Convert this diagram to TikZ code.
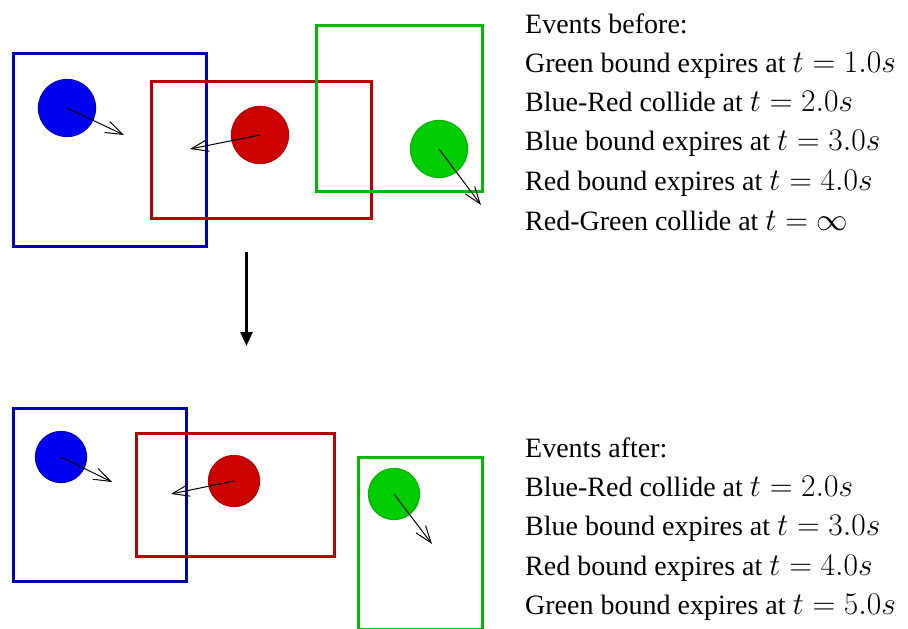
\RequirePackage{fix-cm}
\documentclass[tikz,border=0pt]{standalone}
\usepackage{fontspec}
\setmainfont{Liberation Serif}
\usetikzlibrary{arrows.meta}

\definecolor{blueball}{RGB}{0,0,240}
\definecolor{blueedge}{RGB}{0,0,190}
\definecolor{bluebox}{RGB}{0,0,185}
\definecolor{redball}{RGB}{205,0,0}
\definecolor{rededge}{RGB}{185,0,0}
\definecolor{redbox}{RGB}{185,0,0}
\definecolor{greenball}{RGB}{0,205,0}
\definecolor{greenedge}{RGB}{0,180,0}
\definecolor{greenbox}{RGB}{0,185,0}

% event time, set a little larger than the surrounding text
\newcommand{\evtime}[1]{{\fontsize{31.5}{34}\selectfont$t=#1$}}

\tikzset{
  bound/.style={draw=#1, line width=2.5pt, rectangle, inner sep=0pt, anchor=north west},
  ball/.style={circle, fill=#1ball, draw=#1edge, line width=1.3pt, inner sep=0pt},
  velocity/.style={line width=1pt, -{Straight Barb[length=17pt,width=12pt,line width=1pt]}},
  eventline/.style={anchor=base west, inner sep=0pt, font=\fontsize{28}{34}\selectfont},
  stepdown/.style={line width=2.5pt, -{Triangle[length=14pt,width=12pt]}}
}

\begin{document}
\begin{tikzpicture}[x=1pt, y=-1pt]
  \useasboundingbox (0,0) rectangle (908,629);

  % ---- state before ----
  \node[bound=bluebox,  minimum width=193pt, minimum height=193pt] (bbA) at (12,52) {};
  \node[bound=redbox,   minimum width=220pt, minimum height=137pt] (rbA) at (150,80) {};
  \node[bound=greenbox, minimum width=166pt, minimum height=166pt] (gbA) at (315,24) {};

  \node[ball=blue,  minimum size=57pt] (blueA)  at (67,108) {};
  \node[ball=red,   minimum size=57pt] (redA)   at (260,135) {};
  \node[ball=green, minimum size=57pt] (greenA) at (439,149) {};

  \coordinate (vbA) at (124,135);
  \coordinate (vrA) at (190,149);
  \coordinate (vgA) at (481,205);
  \draw[velocity] (blueA.center)  -- (vbA);
  \draw[velocity] (redA.center)   -- (vrA);
  \draw[velocity] (greenA.center) -- (vgA);

  \node[eventline] (tA0) at (525,33)  {Events before:};
  \node[eventline] (tA1) at (525,72)  {Green bound expires at \evtime{1.0s}};
  \node[eventline] (tA2) at (525,111) {Blue-Red collide at \evtime{2.0s}};
  \node[eventline] (tA3) at (525,150) {Blue bound expires at \evtime{3.0s}};
  \node[eventline] (tA4) at (525,190) {Red bound expires at \evtime{4.0s}};
  \node[eventline] (tA5) at (525,230) {Red-Green collide at \evtime{\infty}};

  % ---- transition ----
  \coordinate (stepfrom) at (246.5,252);
  \coordinate (stepto)   at (246.5,346);
  \draw[stepdown] (stepfrom) -- (stepto);

  % ---- state after ----
  \node[bound=bluebox,  minimum width=173pt, minimum height=173pt] (bbB) at (12,407) {};
  \node[bound=redbox,   minimum width=198pt, minimum height=123pt] (rbB) at (135,432) {};
  \node[bound=greenbox, minimum width=124pt, minimum height=172pt] (gbB) at (357,456) {};

  \node[ball=blue,  minimum size=51pt] (blueB)  at (61,457) {};
  \node[ball=red,   minimum size=51pt] (redB)   at (234,481) {};
  \node[ball=green, minimum size=51pt] (greenB) at (394,494) {};

  \coordinate (vbB) at (112,482);
  \coordinate (vrB) at (171,494);
  \coordinate (vgB) at (432,544);
  \draw[velocity] (blueB.center)  -- (vbB);
  \draw[velocity] (redB.center)   -- (vrB);
  \draw[velocity] (greenB.center) -- (vgB);

  \node[eventline] (tB0) at (525,457) {Events after:};
  \node[eventline] (tB1) at (525,496) {Blue-Red collide at \evtime{2.0s}};
  \node[eventline] (tB2) at (525,535) {Blue bound expires at \evtime{3.0s}};
  \node[eventline] (tB3) at (525,575) {Red bound expires at \evtime{4.0s}};
  \node[eventline] (tB4) at (525,614) {Green bound expires at \evtime{5.0s}};
\end{tikzpicture}
\end{document}
